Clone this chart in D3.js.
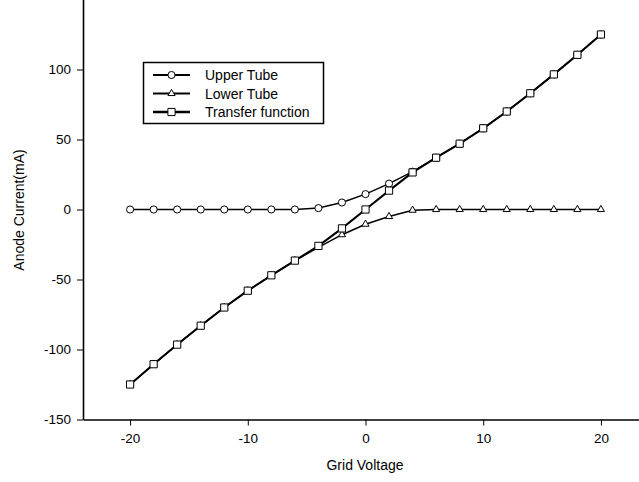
<!DOCTYPE html>
<html><head><meta charset="utf-8">
<script src="https://cdn.jsdelivr.net/npm/d3@7"></script>
<style>body{margin:0;background:#fff}svg{display:block}text{font-family:"Liberation Sans",Arial,sans-serif;fill:#000}</style>
</head><body><svg id="c" width="639" height="482"></svg>
<script>
const gridVoltage = [-20,-18,-16,-14,-12,-10,-8,-6,-4,-2,0,2,4,6,8,10,12,14,16,18,20];
const upperTube = [0,0,0,0,0,0,0,0,1,5,11,18.5,27,37,47,58,70,83,96.5,110.5,125];
const lowerTube = [-125,-110.5,-96.5,-83,-70,-58,-47,-36.5,-27,-18,-10.5,-5,-0.5,0,0,0,0,0,0,0,0];
const transferFn = [-125,-110.5,-96.5,-83,-70,-58,-47,-36.5,-26,-13.5,0,13.5,26.5,37,47,58,70,83,96.5,110.5,125];
const xTicks = [-20,-10,0,10,20];
const yTicks = [-150,-100,-50,0,50,100];
const seriesNames = ["Upper Tube","Lower Tube","Transfer function"];

const svg = d3.select("#c");
const x = d3.scaleLinear().domain([-24,24]).range([83,648]);
const y = d3.scaleLinear().domain([-150,150]).range([419.5,-0.5]);
const fmt = d => String(d);

const xAxis = svg.append("g").attr("transform","translate(0,419.5)")
  .call(d3.axisBottom(x).tickValues(xTicks).tickFormat(fmt).tickSize(6).tickSizeOuter(0).tickPadding(8));
const yAxis = svg.append("g").attr("transform","translate(83,0)")
  .call(d3.axisLeft(y).tickValues(yTicks).tickFormat(fmt).tickSize(6).tickSizeOuter(0).tickPadding(6));
[xAxis,yAxis].forEach(a=>{
  a.select(".domain").attr("stroke","#000").attr("stroke-width",1.6);
  a.selectAll(".tick line").attr("stroke","#000").attr("stroke-width",1);
  a.selectAll(".tick text").style("font-size","13.5px").attr("fill","#000");
});

svg.append("text").attr("x",365).attr("y",470).attr("text-anchor","middle").style("font-size","14px").text("Grid Voltage");
svg.append("text").attr("transform","translate(24,210) rotate(-90)").attr("text-anchor","middle").style("font-size","14px").text("Anode Current(mA)");

const series = [
  {vals: upperTube, sym: d3.symbolCircle, size: 40, w: 1.5},
  {vals: lowerTube, sym: d3.symbolTriangle, size: 22, w: 1.5},
  {vals: transferFn, sym: d3.symbolSquare, size: 52, w: 2}
];
const line = d3.line().x((d,i)=>x(gridVoltage[i])).y(d=>y(d));
series.forEach(s=>{
  svg.append("path").attr("d",line(s.vals)).attr("fill","none").attr("stroke","#000").attr("stroke-width",s.w);
  svg.append("g").selectAll("path").data(s.vals).join("path")
    .attr("transform",(d,i)=>`translate(${x(gridVoltage[i])},${y(d)})`)
    .attr("d",d3.symbol(s.sym,s.size)).attr("fill","#fff").attr("stroke","#000").attr("stroke-width",1);
});

// legend
const lg = svg.append("g");
lg.append("rect").attr("x",143.5).attr("y",62.5).attr("width",180).attr("height",61).attr("fill","#fff").attr("stroke","#000").attr("stroke-width",1.5);
const rowsY = [75,93.5,112];
series.forEach((s,i)=>{
  lg.append("line").attr("x1",153).attr("x2",190).attr("y1",rowsY[i]).attr("y2",rowsY[i]).attr("stroke","#000").attr("stroke-width",s.w+0.5);
  lg.append("path").attr("transform",`translate(171.5,${rowsY[i]})`).attr("d",d3.symbol(s.sym,s.size)).attr("fill","#fff").attr("stroke","#000");
  lg.append("text").attr("x",205).attr("y",rowsY[i]+5).style("font-size","14px").text(seriesNames[i]);
});
</script></body></html>
